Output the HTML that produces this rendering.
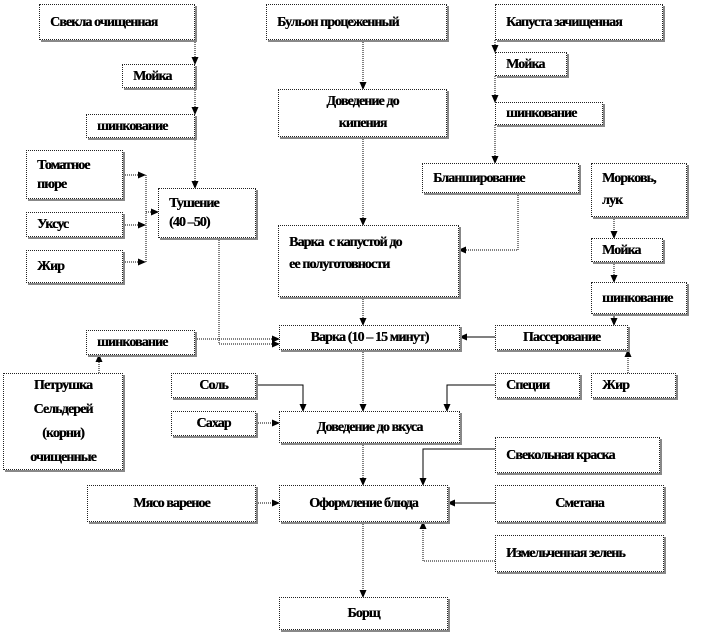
<!DOCTYPE html>
<html><head><meta charset="utf-8"><style>
body{margin:0;width:702px;height:632px;background:#fff;position:relative;overflow:hidden;font-family:"Liberation Serif",serif;}
.b{position:absolute;box-sizing:border-box;border:1.5px dotted #222;background:#fff;box-shadow:2px 2px 0 #888;font-weight:bold;font-size:14px;letter-spacing:-0.9px;color:#000;display:flex;align-items:center;padding-left:10px;line-height:19px;text-shadow:0.3px 0 0 #000}
.c{justify-content:center;padding-left:0;text-align:center}
svg{position:absolute;left:0;top:0}
</style></head><body>
<svg width="702" height="632">
<defs><marker id="a" markerWidth="8" markerHeight="8" refX="7" refY="4" orient="auto" markerUnits="userSpaceOnUse"><path d="M0,0.5L8,4L0,7.5z" fill="#000"/></marker></defs>
<g stroke="#000" stroke-width="1" fill="none" stroke-dasharray="1,1">
<line x1="195" y1="40" x2="195" y2="64" marker-end="url(#a)"/>
<line x1="195" y1="88" x2="195" y2="114" marker-end="url(#a)"/>
<line x1="195" y1="138" x2="195" y2="188" marker-end="url(#a)"/>
<line x1="123" y1="175" x2="145" y2="175" marker-end="url(#a)"/>
<line x1="123" y1="225" x2="145" y2="225" marker-end="url(#a)"/>
<line x1="123" y1="262" x2="145" y2="262" marker-end="url(#a)"/>
<line x1="146" y1="175" x2="146" y2="262"/>
<line x1="146" y1="212" x2="158" y2="212" marker-end="url(#a)"/>
<polyline points="219,238 219,344 279,344" marker-end="url(#a)"/>
<line x1="195" y1="339" x2="279" y2="339" marker-end="url(#a)"/>
<line x1="363" y1="40" x2="363" y2="89" marker-end="url(#a)"/>
<line x1="363" y1="137" x2="363" y2="225" marker-end="url(#a)"/>
<line x1="363" y1="297" x2="363" y2="325" marker-end="url(#a)"/>
<line x1="495" y1="40" x2="495" y2="52" marker-end="url(#a)"/>
<line x1="495" y1="76" x2="495" y2="102" marker-end="url(#a)"/>
<line x1="495" y1="125" x2="495" y2="163" marker-end="url(#a)"/>
<polyline points="518,193 518,250 459,250" marker-end="url(#a)"/>
<line x1="614" y1="217" x2="614" y2="238" marker-end="url(#a)"/>
<line x1="614" y1="262" x2="614" y2="282" marker-end="url(#a)"/>
<line x1="628" y1="373" x2="628" y2="350" marker-end="url(#a)"/>
<line x1="99" y1="373" x2="99" y2="355" marker-end="url(#a)"/>
<line x1="363" y1="350" x2="363" y2="411" marker-end="url(#a)"/>
<line x1="256" y1="423" x2="279" y2="423" marker-end="url(#a)"/>
<line x1="363" y1="443" x2="363" y2="485" marker-end="url(#a)"/>
<line x1="256" y1="503" x2="279" y2="503" marker-end="url(#a)"/>
<polyline points="495,561 423,561 423,522" marker-end="url(#a)"/>
<line x1="363" y1="522" x2="363" y2="597" marker-end="url(#a)"/>
</g>
<g stroke="#000" stroke-width="1" fill="none">
<line x1="614" y1="314" x2="614" y2="325" marker-end="url(#a)"/>
<line x1="495" y1="337" x2="460" y2="337" marker-end="url(#a)"/>
<polyline points="256,385 303,385 303,411" marker-end="url(#a)"/>
<polyline points="495,385 447,385 447,411" marker-end="url(#a)"/>
<polyline points="495,449 423,449 423,485" marker-end="url(#a)"/>
<line x1="495" y1="503" x2="448" y2="503" marker-end="url(#a)"/>
</g>
</svg>
<div class="b" style="left:39px;top:4px;width:156px;height:36px">Свекла очищенная</div>
<div class="b" style="left:122px;top:64px;width:73px;height:24px">Мойка</div>
<div class="b" style="left:86px;top:114px;width:109px;height:24px">шинкование</div>
<div class="b" style="left:26px;top:150px;width:97px;height:49px">Томатное<br>пюре</div>
<div class="b" style="left:26px;top:212px;width:97px;height:25px">Уксус</div>
<div class="b" style="left:26px;top:250px;width:97px;height:33px">Жир</div>
<div class="b" style="left:158px;top:188px;width:98px;height:50px">Тушение<br>(40 –50)</div>
<div class="b" style="left:266px;top:4px;width:181px;height:36px">Бульон процеженный</div>
<div class="b c" style="left:278px;top:89px;width:169px;height:48px;line-height:22px">Доведение до<br>кипения</div>
<div class="b" style="left:278px;top:225px;width:181px;height:72px;align-items:flex-start;padding-top:6px;line-height:22px">Варка&nbsp; с капустой до<br>ее полуготовности</div>
<div class="b" style="left:495px;top:4px;width:168px;height:36px">Капуста зачищенная</div>
<div class="b" style="left:495px;top:52px;width:72px;height:24px">Мойка</div>
<div class="b" style="left:495px;top:102px;width:108px;height:23px">шинкование</div>
<div class="b" style="left:422px;top:163px;width:157px;height:30px">Бланширование</div>
<div class="b" style="left:591px;top:163px;width:96px;height:54px;line-height:22px">Морковь,<br>лук</div>
<div class="b" style="left:591px;top:238px;width:72px;height:24px">Мойка</div>
<div class="b" style="left:591px;top:282px;width:96px;height:32px">шинкование</div>
<div class="b" style="left:86px;top:330px;width:109px;height:25px">шинкование</div>
<div class="b c" style="left:279px;top:325px;width:181px;height:25px">Варка (10 – 15 минут)</div>
<div class="b c" style="left:495px;top:325px;width:133px;height:25px">Пассерование</div>
<div class="b c" style="left:3px;top:373px;width:120px;height:97px;line-height:24px">Петрушка<br>Сельдерей<br>(корни)<br>очищенные</div>
<div class="b c" style="left:171px;top:373px;width:85px;height:25px">Соль</div>
<div class="b" style="left:495px;top:373px;width:85px;height:25px">Специи</div>
<div class="b" style="left:591px;top:373px;width:85px;height:25px">Жир</div>
<div class="b c" style="left:171px;top:411px;width:85px;height:25px">Сахар</div>
<div class="b c" style="left:279px;top:411px;width:181px;height:32px">Доведение до вкуса</div>
<div class="b" style="left:495px;top:437px;width:165px;height:36px">Свекольная краска</div>
<div class="b c" style="left:87px;top:485px;width:169px;height:37px">Мясо вареное</div>
<div class="b c" style="left:279px;top:485px;width:169px;height:37px">Оформление блюда</div>
<div class="b c" style="left:495px;top:485px;width:169px;height:37px">Сметана</div>
<div class="b" style="left:495px;top:535px;width:169px;height:37px">Измельченная зелень</div>
<div class="b c" style="left:279px;top:597px;width:169px;height:33px">Борщ</div>
</body></html>
